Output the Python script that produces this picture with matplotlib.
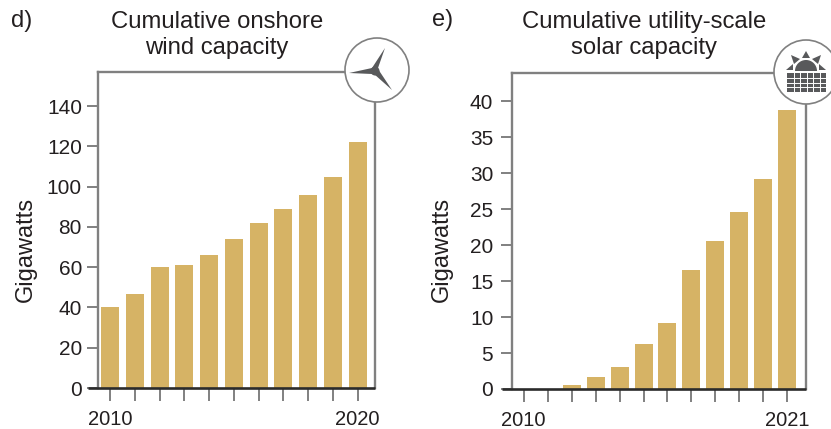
import matplotlib
matplotlib.use('Agg')
import matplotlib.pyplot as plt
from matplotlib.patches import Circle, Polygon, Rectangle, Wedge

plt.rcParams['font.family'] = ['Liberation Sans', 'DejaVu Sans']

W, H = 831, 429

# data
wind_years = [2010, 2011, 2012, 2013, 2014, 2015, 2016, 2017, 2018, 2019, 2020]
wind_gw = [40, 46.5, 60, 61, 66, 74, 82, 89, 96, 105, 122]
wind_yticks = [0, 20, 40, 60, 80, 100, 120, 140]

solar_years = [2010, 2011, 2012, 2013, 2014, 2015, 2016, 2017, 2018, 2019, 2020, 2021]
solar_gw = [0, 0, 0.6, 1.7, 3, 6.2, 9.1, 16.5, 20.6, 24.6, 29.2, 38.8]
solar_yticks = [0, 5, 10, 15, 20, 25, 30, 35, 40]

bar_color = '#d6b365'
frame_color = '#808080'
text_color = '#231f20'
dark_line = '#2b2b2b'


def make_panel(box, years, values, yticks, ytop, xlim, width_bar, first_last, ylab_x, axis_stub, ypad):
    left, right, top, bottom = box
    ax = fig.add_axes([left / W, 1 - bottom / H, (right - left) / W, (bottom - top) / H])
    ax.patch.set_alpha(0)
    ax.bar(years, values, width=width_bar, color=bar_color, linewidth=0)
    ax.set_xlim(*xlim)
    ax.set_ylim(0, ytop)
    ax.set_yticks(yticks)
    ax.set_xticks(years)
    ax.set_xticklabels([str(y) if y in first_last else '' for y in years])
    ax.tick_params(axis='x', length=9, width=1.4, color=frame_color, labelsize=14.5,
                   labelcolor=text_color, pad=6.5)
    ax.tick_params(axis='y', length=8, width=1.4, color=frame_color, labelsize=15,
                   labelcolor=text_color, pad=ypad)
    for s in ['left', 'right', 'top']:
        ax.spines[s].set_color(frame_color)
        ax.spines[s].set_linewidth(1.7)
    ax.spines['bottom'].set_visible(False)
    # base line runs out past the left of the frame
    ax.plot([-axis_stub, 1], [0, 0], transform=ax.transAxes, color=dark_line, lw=1.9,
            clip_on=False, solid_capstyle='butt', zorder=5)
    ax.set_ylabel('Gigawatts', fontsize=17, color=text_color)
    ax.yaxis.set_label_coords((ylab_x - left) / (right - left), (bottom - 249) / (bottom - top))
    return ax


def draw_wind_icon(cx, cy, r):
    over.add_patch(Circle((cx, cy), r, fc='white', ec=frame_color, lw=1.2, zorder=3))
    grey = '#58595b'
    hx, hy = cx - 2, cy + 1
    blades = [
        [(hx - 3, hy - 3), (hx + 10, hy - 23), (hx + 3, hy - 3)],
        [(hx - 3, hy - 3), (hx - 26, hy + 2), (hx - 3, hy + 3)],
        [(hx + 3, hy - 2), (hx + 17, hy + 19), (hx - 1, hy + 3)],
    ]
    for b in blades:
        over.add_patch(Polygon(b, closed=True, fc=grey, ec='none', zorder=4))
    over.add_patch(Circle((hx, hy), 4.5, fc=grey, ec='none', zorder=4))


def draw_solar_icon(cx, cy, r):
    over.add_patch(Circle((cx, cy), r, fc='white', ec=frame_color, lw=1.2, zorder=3))
    grey = '#58595b'
    # sun
    sx, sy = cx, cy - 1
    over.add_patch(Wedge((sx, sy), 11, 180, 360, fc=grey, ec='none', zorder=4))
    rays = [
        [(sx - 4, sy - 13), (sx + 4, sy - 13), (sx, sy - 20)],
        [(sx - 12, sy - 7), (sx - 6, sy - 12), (sx - 15, sy - 16)],
        [(sx + 12, sy - 7), (sx + 6, sy - 12), (sx + 15, sy - 16)],
        [(sx - 13, sy - 1), (sx - 13, sy - 7), (sx - 20, sy - 1)],
        [(sx + 13, sy - 1), (sx + 13, sy - 7), (sx + 20, sy - 1)],
    ]
    for ray in rays:
        over.add_patch(Polygon(ray, closed=True, fc=grey, ec='none', zorder=4))
    # panel grid
    px, py, pw, ph = cx - 19, cy + 1, 39, 19
    over.add_patch(Rectangle((px, py), pw, ph, fc=grey, ec='none', zorder=4))
    for i in range(1, 6):
        over.plot([px + i * pw / 6] * 2, [py, py + ph], color='white', lw=0.7, zorder=5)
    for i in range(1, 4):
        over.plot([px, px + pw], [py + i * ph / 4] * 2, color='white', lw=0.7, zorder=5)


fig = plt.figure(figsize=(W / 100, H / 100), dpi=100)

d_pitch = 24.77
make_panel((98, 375, 72, 388), wind_years, wind_gw, wind_yticks, 156.9,
           (2010 - 12 / d_pitch, 2010 + (375 - 110) / d_pitch), 18 / d_pitch,
           (2010, 2020), 37, 10 / 277, 3.6)

e_pitch = 23.96
make_panel((512, 806, 73, 389), solar_years, solar_gw, solar_yticks, 43.9,
           (2010 - 11.7 / e_pitch, 2010 + (806 - 523.7) / e_pitch), 18 / e_pitch,
           (2010, 2021), 453, 10.5 / 294, 5.5)

# pixel space overlay for titles and icons
over = fig.add_axes([0, 0, 1, 1])
over.set_xlim(0, W)
over.set_ylim(H, 0)
over.axis('off')
over.patch.set_alpha(0)

over.text(11, 21, 'd)', fontsize=17, color=text_color, va='center')
over.text(432, 20, 'e)', fontsize=17, color=text_color, va='center')
over.text(217, 35, 'Cumulative onshore\nwind capacity', fontsize=17.2, color=text_color,
          ha='center', va='center', linespacing=1.2)
over.text(644, 35, 'Cumulative utility-scale\nsolar capacity', fontsize=17.2, color=text_color,
          ha='center', va='center', linespacing=1.2)

draw_wind_icon(377, 70, 32)
draw_solar_icon(806, 72, 32)

fig.savefig('out.png', dpi=100)
